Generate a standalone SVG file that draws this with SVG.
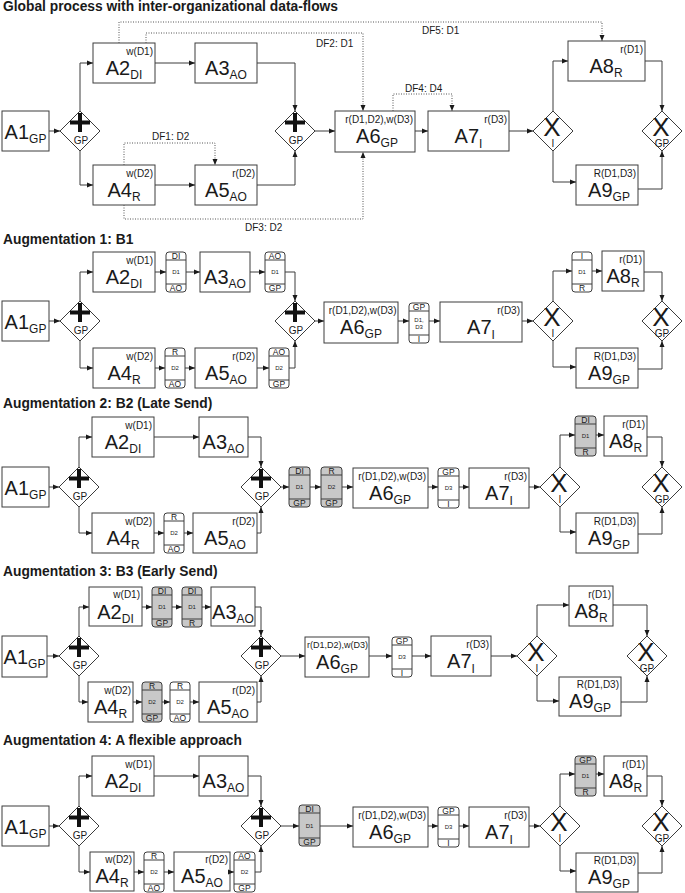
<svg xmlns="http://www.w3.org/2000/svg" width="685" height="893" viewBox="0 0 685 893">
<defs>
<marker id="ah" viewBox="0 0 6 6" refX="6" refY="3" markerWidth="6" markerHeight="6" markerUnits="userSpaceOnUse" orient="auto"><path d="M0,0.5L6,3L0,5.5z" fill="#1a1a1a"/></marker>
<style>
text{font-family:"Liberation Sans",Arial,sans-serif;fill:#1a1a1a}
.t{font-size:13.8px;font-weight:bold}
.box{fill:#fff;stroke:#3c3c3c;stroke-width:1}
.gw{fill:#fff;stroke:#3c3c3c;stroke-width:1}
.pl{stroke:#111;stroke-width:4;fill:none}
.big{font-size:20px;text-anchor:middle}
.sub{font-size:12px}
.sm{font-size:10px;text-anchor:end}
.sm9{font-size:9px;text-anchor:end}
.gl{font-size:10px;text-anchor:middle}
.x{font-size:26px;text-anchor:middle}
.do{fill:#fff;stroke:#3c3c3c;stroke-width:1}
.dg{fill:#c8c8c8;stroke:#3c3c3c;stroke-width:1}
.bd{stroke:#3c3c3c;fill:none;stroke-width:1}
.dt{font-size:8.5px;text-anchor:middle}
.dm{font-size:6px;text-anchor:middle}
.ln{fill:none;stroke:#3c3c3c;stroke-width:1;marker-end:url(#ah)}
.df{fill:none;stroke:#555;stroke-width:1;stroke-dasharray:1 1.5;marker-end:url(#ah)}
.dfl{font-size:10px}
</style>
</defs>
<rect width="685" height="893" fill="#fff"/>

<!-- Titles -->
<text class="t" x="3" y="11">Global process with inter-organizational data-flows</text>
<text class="t" x="3" y="244">Augmentation 1: B1</text>
<text class="t" x="3" y="408">Augmentation 2: B2 (Late Send)</text>
<text class="t" x="3" y="576">Augmentation 3: B3 (Early Send)</text>
<text class="t" x="3" y="745">Augmentation 4: A flexible approach</text>

<!-- ===== Section 1 ===== -->
<g id="s1-a1"><rect class="box" x="2" y="111" width="47" height="40"/><text class="big" x="25.5" y="139">A1<tspan class="sub" dy="4">GP</tspan></text></g>
<g id="s1-g1"><polygon class="gw" points="60,131 80,111 100,131 80,151"/><path class="pl" d="M70,122.5H90M80,113V132"/><text class="gl" x="81" y="144">GP</text></g>
<g id="s1-a2"><rect class="box" x="93" y="43" width="62" height="40"/><text class="sm" x="153" y="54.5">w(D1)</text><text class="big" x="124" y="75">A2<tspan class="sub" dy="4">DI</tspan></text></g>
<g id="s1-a3"><rect class="box" x="195" y="43" width="62" height="40"/><text class="big" x="226" y="75">A3<tspan class="sub" dy="4">AO</tspan></text></g>
<g id="s1-a4"><rect class="box" x="93" y="165" width="62" height="40"/><text class="sm" x="153" y="176.5">w(D2)</text><text class="big" x="124" y="197">A4<tspan class="sub" dy="4">R</tspan></text></g>
<g id="s1-a5"><rect class="box" x="195" y="165" width="62" height="40"/><text class="sm" x="255" y="176.5">r(D2)</text><text class="big" x="226" y="197">A5<tspan class="sub" dy="4">AO</tspan></text></g>
<g id="s1-g2"><polygon class="gw" points="275,131 295,111 315,131 295,151"/><path class="pl" d="M285,122.5H305M295,113V132"/><text class="gl" x="296" y="144">GP</text></g>
<g id="s1-a6"><rect class="box" x="335" y="111" width="80" height="41"/><text class="sm" x="413" y="122.5">r(D1,D2),w(D3)</text><text class="big" x="377" y="143">A6<tspan class="sub" dy="4">GP</tspan></text></g>
<g id="s1-a7"><rect class="box" x="428" y="111" width="81" height="40"/><text class="sm" x="507" y="122.5">r(D3)</text><text class="big" x="468.5" y="143">A7<tspan class="sub" dy="5">I</tspan></text></g>
<g id="s1-g3"><polygon class="gw" points="533,131 553,111 573,131 553,151"/><text class="x" x="552" y="136">X</text><text class="gl" x="553" y="147">I</text></g>
<g id="s1-a8"><rect class="box" x="568" y="41" width="77" height="40"/><text class="sm" x="643" y="52.5">r(D1)</text><text class="big" x="606" y="73">A8<tspan class="sub" dy="4">R</tspan></text></g>
<g id="s1-a9"><rect class="box" x="576" y="165" width="62" height="40"/><text class="sm" x="636" y="176.5">R(D1,D3)</text><text class="big" x="609" y="197">A9<tspan class="sub" dy="4">GP</tspan></text></g>
<g id="s1-g4"><polygon class="gw" points="642,131 662,111 682,131 662,151"/><text class="x" x="661" y="136">X</text><text class="gl" x="662" y="147">GP</text></g>

<!-- ===== Section 2 ===== -->
<g id="s2-a1"><rect class="box" x="2" y="301" width="47" height="40"/><text class="big" x="25.5" y="329">A1<tspan class="sub" dy="4">GP</tspan></text></g>
<g id="s2-g1"><polygon class="gw" points="60,321 80,301 100,321 80,341"/><path class="pl" d="M70,312.5H90M80,303V322"/><text class="gl" x="81" y="334">GP</text></g>
<g id="s2-a2"><rect class="box" x="93" y="252" width="62" height="40"/><text class="sm" x="153" y="263.5">w(D1)</text><text class="big" x="124" y="284">A2<tspan class="sub" dy="4">DI</tspan></text></g>
<g id="s2-do1" transform="translate(166,252)"><rect class="do" width="20" height="40" rx="3"/><path class="bd" d="M0,8H20M0,32H20"/><text class="dt" x="10" y="7">DI</text><text class="dm" x="10" y="22">D1</text><text class="dt" x="10" y="39">AO</text></g>
<g id="s2-a3"><rect class="box" x="200" y="252" width="50" height="40"/><text class="big" x="225" y="284">A3<tspan class="sub" dy="4">AO</tspan></text></g>
<g id="s2-do2" transform="translate(265,252)"><rect class="do" width="20" height="40" rx="3"/><path class="bd" d="M0,8H20M0,32H20"/><text class="dt" x="10" y="7">AO</text><text class="dm" x="10" y="22">D1</text><text class="dt" x="10" y="39">GP</text></g>
<g id="s2-g2"><polygon class="gw" points="275,321 295,301 315,321 295,341"/><path class="pl" d="M285,312.5H305M295,303V322"/><text class="gl" x="296" y="334">GP</text></g>
<g id="s2-a4"><rect class="box" x="93" y="348" width="62" height="40"/><text class="sm" x="153" y="359.5">w(D2)</text><text class="big" x="124" y="380">A4<tspan class="sub" dy="4">R</tspan></text></g>
<g id="s2-do3" transform="translate(165,348)"><rect class="do" width="20" height="40" rx="3"/><path class="bd" d="M0,8H20M0,32H20"/><text class="dt" x="10" y="7">R</text><text class="dm" x="10" y="22">D2</text><text class="dt" x="10" y="39">AO</text></g>
<g id="s2-a5"><rect class="box" x="195" y="348" width="62" height="40"/><text class="sm" x="255" y="359.5">r(D2)</text><text class="big" x="226" y="380">A5<tspan class="sub" dy="4">AO</tspan></text></g>
<g id="s2-do4" transform="translate(269,348)"><rect class="do" width="20" height="40" rx="3"/><path class="bd" d="M0,8H20M0,32H20"/><text class="dt" x="10" y="7">AO</text><text class="dm" x="10" y="22">D2</text><text class="dt" x="10" y="39">GP</text></g>
<g id="s2-a6"><rect class="box" x="324" y="302" width="74" height="41"/><text class="sm" x="396.5" y="313.5">r(D1,D2),w(D3)</text><text class="big" x="361" y="334">A6<tspan class="sub" dy="4">GP</tspan></text></g>
<g id="s2-do5" transform="translate(409,303)"><rect class="do" width="20" height="40" rx="3"/><path class="bd" d="M0,8H20M0,32H20"/><text class="dt" x="10" y="7">GP</text><text class="dm" x="10" y="18.5">D1,</text><text class="dm" x="10" y="25.5">D3</text><text class="dt" x="10" y="39">I</text></g>
<g id="s2-a7"><rect class="box" x="440" y="302" width="82" height="40"/><text class="sm" x="520" y="313.5">r(D3)</text><text class="big" x="481" y="334">A7<tspan class="sub" dy="5">I</tspan></text></g>
<g id="s2-g3"><polygon class="gw" points="533,321 553,301 573,321 553,341"/><text class="x" x="552" y="326">X</text><text class="gl" x="553" y="337">I</text></g>
<g id="s2-do6" transform="translate(572,252)"><rect class="do" width="20" height="40" rx="3"/><path class="bd" d="M0,8H20M0,32H20"/><text class="dt" x="10" y="7">I</text><text class="dm" x="10" y="22">D1</text><text class="dt" x="10" y="39">R</text></g>
<g id="s2-a8"><rect class="box" x="602" y="251" width="42" height="40"/><text class="sm" x="642" y="262.5">r(D1)</text><text class="big" x="623" y="283">A8<tspan class="sub" dy="4">R</tspan></text></g>
<g id="s2-g4"><polygon class="gw" points="642,321 662,301 682,321 662,341"/><text class="x" x="661" y="326">X</text><text class="gl" x="662" y="337">GP</text></g>
<g id="s2-a9"><rect class="box" x="576" y="348" width="62" height="40"/><text class="sm" x="636" y="359.5">R(D1,D3)</text><text class="big" x="609" y="380">A9<tspan class="sub" dy="4">GP</tspan></text></g>

<!-- ===== Section 3 ===== -->
<g id="s3-a1"><rect class="box" x="2" y="467" width="47" height="40"/><text class="big" x="25.5" y="495">A1<tspan class="sub" dy="4">GP</tspan></text></g>
<g id="s3-g1"><polygon class="gw" points="59,487 79,467 99,487 79,507"/><path class="pl" d="M69,478.5H89M79,469V488"/><text class="gl" x="80" y="500">GP</text></g>
<g id="s3-a2"><rect class="box" x="92" y="417" width="62" height="40"/><text class="sm" x="152" y="428.5">w(D1)</text><text class="big" x="123" y="449">A2<tspan class="sub" dy="4">DI</tspan></text></g>
<g id="s3-a3"><rect class="box" x="199" y="417" width="49" height="40"/><text class="big" x="223.5" y="449">A3<tspan class="sub" dy="4">AO</tspan></text></g>
<g id="s3-g2"><polygon class="gw" points="241,487 261,467 281,487 261,507"/><path class="pl" d="M251,478.5H271M261,469V488"/><text class="gl" x="262" y="500">GP</text></g>
<g id="s3-a4"><rect class="box" x="92" y="513" width="62" height="40"/><text class="sm" x="152" y="524.5">w(D2)</text><text class="big" x="123" y="545">A4<tspan class="sub" dy="4">R</tspan></text></g>
<g id="s3-do1" transform="translate(164,513)"><rect class="do" width="20" height="40" rx="3"/><path class="bd" d="M0,8H20M0,32H20"/><text class="dt" x="10" y="7">R</text><text class="dm" x="10" y="22">D2</text><text class="dt" x="10" y="39">AO</text></g>
<g id="s3-a5"><rect class="box" x="193" y="513" width="64" height="40"/><text class="sm" x="255" y="524.5">r(D2)</text><text class="big" x="225" y="545">A5<tspan class="sub" dy="4">AO</tspan></text></g>
<g id="s3-do2" transform="translate(289,467)"><rect class="dg" width="21" height="40" rx="3"/><path class="bd" d="M0,8H21M0,32H21"/><text class="dt" x="10.5" y="7">DI</text><text class="dm" x="10.5" y="22">D1</text><text class="dt" x="10.5" y="39">GP</text></g>
<g id="s3-do3" transform="translate(321,467)"><rect class="dg" width="21" height="40" rx="3"/><path class="bd" d="M0,8H21M0,32H21"/><text class="dt" x="10.5" y="7">R</text><text class="dm" x="10.5" y="22">D2</text><text class="dt" x="10.5" y="39">GP</text></g>
<g id="s3-a6"><rect class="box" x="353" y="468" width="75" height="40"/><text class="sm" x="426" y="479.5">r(D1,D2),w(D3)</text><text class="big" x="390" y="500">A6<tspan class="sub" dy="4">GP</tspan></text></g>
<g id="s3-do4" transform="translate(438,468)"><rect class="do" width="21" height="40" rx="3"/><path class="bd" d="M0,8H21M0,32H21"/><text class="dt" x="10.5" y="7">GP</text><text class="dm" x="10.5" y="22">D3</text><text class="dt" x="10.5" y="39">I</text></g>
<g id="s3-a7"><rect class="box" x="469" y="468" width="60" height="40"/><text class="sm" x="527" y="479.5">r(D3)</text><text class="big" x="499" y="500">A7<tspan class="sub" dy="5">I</tspan></text></g>
<g id="s3-g3"><polygon class="gw" points="540,487 560,467 580,487 560,507"/><text class="x" x="559" y="492">X</text><text class="gl" x="560" y="503">I</text></g>
<g id="s3-do5" transform="translate(575,416)"><rect class="dg" width="21" height="40" rx="3"/><path class="bd" d="M0,8H21M0,32H21"/><text class="dt" x="10.5" y="7">DI</text><text class="dm" x="10.5" y="22">D1</text><text class="dt" x="10.5" y="39">R</text></g>
<g id="s3-a8"><rect class="box" x="604" y="416" width="43" height="40"/><text class="sm" x="645" y="427.5">r(D1)</text><text class="big" x="625.5" y="448">A8<tspan class="sub" dy="4">R</tspan></text></g>
<g id="s3-g4"><polygon class="gw" points="642,487 662,467 682,487 662,507"/><text class="x" x="661" y="492">X</text><text class="gl" x="662" y="503">GP</text></g>
<g id="s3-a9"><rect class="box" x="576" y="513" width="62" height="40"/><text class="sm" x="636" y="524.5">R(D1,D3)</text><text class="big" x="609" y="545">A9<tspan class="sub" dy="4">GP</tspan></text></g>

<!-- ===== Section 4 ===== -->
<g id="s4-a1"><rect class="box" x="2" y="636" width="45" height="41"/><text class="big" x="24.5" y="664">A1<tspan class="sub" dy="4">GP</tspan></text></g>
<g id="s4-g1"><polygon class="gw" points="59,656 79,636 99,656 79,676"/><path class="pl" d="M69,647.5H89M79,638V657"/><text class="gl" x="80" y="669">GP</text></g>
<g id="s4-a2"><rect class="box" x="89" y="587" width="53" height="39"/><text class="sm" x="140" y="598">w(D1)</text><text class="big" x="115.5" y="619">A2<tspan class="sub" dy="4">DI</tspan></text></g>
<g id="s4-do1" transform="translate(152,587)"><rect class="dg" width="20" height="40" rx="3"/><path class="bd" d="M0,8H20M0,32H20"/><text class="dt" x="10" y="7">DI</text><text class="dm" x="10" y="22">D1</text><text class="dt" x="10" y="39">GP</text></g>
<g id="s4-do2" transform="translate(182,587)"><rect class="dg" width="20" height="40" rx="3"/><path class="bd" d="M0,8H20M0,32H20"/><text class="dt" x="10" y="7">DI</text><text class="dm" x="10" y="22">D1</text><text class="dt" x="10" y="39">R</text></g>
<g id="s4-a3"><rect class="box" x="211" y="587" width="44" height="39"/><text class="big" x="233" y="619">A3<tspan class="sub" dy="4">AO</tspan></text></g>
<g id="s4-g2"><polygon class="gw" points="241,656 261,636 281,656 261,676"/><path class="pl" d="M251,647.5H271M261,638V657"/><text class="gl" x="262" y="669">GP</text></g>
<g id="s4-a4"><rect class="box" x="88" y="682" width="45" height="40"/><text class="sm" x="131" y="693.5">w(D2)</text><text class="big" x="110.5" y="714">A4<tspan class="sub" dy="4">R</tspan></text></g>
<g id="s4-do3" transform="translate(142,682)"><rect class="dg" width="20" height="40" rx="3"/><path class="bd" d="M0,8H20M0,32H20"/><text class="dt" x="10" y="7">R</text><text class="dm" x="10" y="22">D2</text><text class="dt" x="10" y="39">GP</text></g>
<g id="s4-do4" transform="translate(170,682)"><rect class="do" width="20" height="40" rx="3"/><path class="bd" d="M0,8H20M0,32H20"/><text class="dt" x="10" y="7">R</text><text class="dm" x="10" y="22">D2</text><text class="dt" x="10" y="39">AO</text></g>
<g id="s4-a5"><rect class="box" x="199" y="682" width="58" height="40"/><text class="sm" x="255" y="693.5">r(D2)</text><text class="big" x="228" y="714">A5<tspan class="sub" dy="4">AO</tspan></text></g>
<g id="s4-a6"><rect class="box" x="305" y="637" width="64" height="40"/><text class="sm9" x="368" y="648">r(D1,D2),w(D3)</text><text class="big" x="337" y="669">A6<tspan class="sub" dy="4">GP</tspan></text></g>
<g id="s4-do5" transform="translate(392,637)"><rect class="do" width="20" height="40" rx="3"/><path class="bd" d="M0,8H20M0,32H20"/><text class="dt" x="10" y="7">GP</text><text class="dm" x="10" y="22">D3</text><text class="dt" x="10" y="39">I</text></g>
<g id="s4-a7"><rect class="box" x="431" y="636" width="60" height="40"/><text class="sm" x="489" y="647.5">r(D3)</text><text class="big" x="461" y="668">A7<tspan class="sub" dy="5">I</tspan></text></g>
<g id="s4-g3"><polygon class="gw" points="517,656 537,636 557,656 537,676"/><text class="x" x="536" y="661">X</text><text class="gl" x="537" y="672">I</text></g>
<g id="s4-a8"><rect class="box" x="569" y="586" width="44" height="40"/><text class="sm" x="611" y="597.5">r(D1)</text><text class="big" x="591" y="618">A8<tspan class="sub" dy="4">R</tspan></text></g>
<g id="s4-g4"><polygon class="gw" points="627,656 647,636 667,656 647,676"/><text class="x" x="646" y="661">X</text><text class="gl" x="647" y="672">GP</text></g>
<g id="s4-a9"><rect class="box" x="559" y="677" width="62" height="39"/><text class="sm" x="619" y="688">R(D1,D3)</text><text class="big" x="590" y="708">A9<tspan class="sub" dy="4">GP</tspan></text></g>

<!-- ===== Section 5 ===== -->
<g id="s5-a1"><rect class="box" x="2" y="806" width="47" height="40"/><text class="big" x="25.5" y="834">A1<tspan class="sub" dy="4">GP</tspan></text></g>
<g id="s5-g1"><polygon class="gw" points="59,826 79,806 99,826 79,846"/><path class="pl" d="M69,817.5H89M79,808V827"/><text class="gl" x="80" y="839">GP</text></g>
<g id="s5-a2"><rect class="box" x="92" y="756" width="62" height="40"/><text class="sm" x="152" y="767.5">w(D1)</text><text class="big" x="123" y="788">A2<tspan class="sub" dy="4">DI</tspan></text></g>
<g id="s5-a3"><rect class="box" x="199" y="756" width="49" height="40"/><text class="big" x="223.5" y="788">A3<tspan class="sub" dy="4">AO</tspan></text></g>
<g id="s5-g2"><polygon class="gw" points="241,826 261,806 281,826 261,846"/><path class="pl" d="M251,817.5H271M261,808V827"/><text class="gl" x="262" y="839">GP</text></g>
<g id="s5-a4"><rect class="box" x="90" y="852" width="44" height="39"/><text class="sm" x="132" y="863">w(D2)</text><text class="big" x="112" y="883">A4<tspan class="sub" dy="4">R</tspan></text></g>
<g id="s5-do1" transform="translate(144,852)"><rect class="do" width="20" height="40" rx="3"/><path class="bd" d="M0,8H20M0,32H20"/><text class="dt" x="10" y="7">R</text><text class="dm" x="10" y="22">D2</text><text class="dt" x="10" y="39">AO</text></g>
<g id="s5-a5"><rect class="box" x="174" y="852" width="56" height="39"/><text class="sm" x="228" y="863">r(D2)</text><text class="big" x="202" y="883">A5<tspan class="sub" dy="4">AO</tspan></text></g>
<g id="s5-do2" transform="translate(234,852)"><rect class="do" width="21" height="40" rx="3"/><path class="bd" d="M0,8H21M0,32H21"/><text class="dt" x="10.5" y="7">AO</text><text class="dm" x="10.5" y="22">D2</text><text class="dt" x="10.5" y="39">GP</text></g>
<g id="s5-do3" transform="translate(299,805)"><rect class="dg" width="21" height="41" rx="3"/><path class="bd" d="M0,8H21M0,33H21"/><text class="dt" x="10.5" y="7">DI</text><text class="dm" x="10.5" y="22.5">D1</text><text class="dt" x="10.5" y="40">GP</text></g>
<g id="s5-a6"><rect class="box" x="353" y="807" width="75" height="40"/><text class="sm" x="426" y="818.5">r(D1,D2),w(D3)</text><text class="big" x="390" y="839">A6<tspan class="sub" dy="4">GP</tspan></text></g>
<g id="s5-do4" transform="translate(438,807)"><rect class="do" width="21" height="40" rx="3"/><path class="bd" d="M0,8H21M0,32H21"/><text class="dt" x="10.5" y="7">GP</text><text class="dm" x="10.5" y="22">D3</text><text class="dt" x="10.5" y="39">I</text></g>
<g id="s5-a7"><rect class="box" x="469" y="807" width="60" height="40"/><text class="sm" x="527" y="818.5">r(D3)</text><text class="big" x="499" y="839">A7<tspan class="sub" dy="5">I</tspan></text></g>
<g id="s5-g3"><polygon class="gw" points="540,826 560,806 580,826 560,846"/><text class="x" x="559" y="831">X</text><text class="gl" x="560" y="842">I</text></g>
<g id="s5-do5" transform="translate(575,756)"><rect class="dg" width="21" height="40" rx="3"/><path class="bd" d="M0,8H21M0,32H21"/><text class="dt" x="10.5" y="7">GP</text><text class="dm" x="10.5" y="22">D1</text><text class="dt" x="10.5" y="39">R</text></g>
<g id="s5-a8"><rect class="box" x="604" y="756" width="43" height="40"/><text class="sm" x="645" y="767.5">r(D1)</text><text class="big" x="625.5" y="788">A8<tspan class="sub" dy="4">R</tspan></text></g>
<g id="s5-g4"><polygon class="gw" points="642,826 662,806 682,826 662,846"/><text class="x" x="661" y="831">X</text><text class="gl" x="662" y="842">GP</text></g>
<g id="s5-a9"><rect class="box" x="576" y="853" width="62" height="39"/><text class="sm" x="636" y="864">R(D1,D3)</text><text class="big" x="609" y="884">A9<tspan class="sub" dy="4">GP</tspan></text></g>

<!-- ===== Connectors ===== -->
<g id="connectors">
<g id="c-s1">
<path class="ln" d="M49,131H60"/>
<path class="ln" d="M80,111V63H93"/>
<path class="ln" d="M80,151V185H93"/>
<path class="ln" d="M155,63H195"/>
<path class="ln" d="M155,185H195"/>
<path class="ln" d="M257,63H295V111"/>
<path class="ln" d="M257,185H295V151"/>
<path class="ln" d="M315,131H335"/>
<path class="ln" d="M415,131H428"/>
<path class="ln" d="M509,131H533"/>
<path class="ln" d="M553,111V61H568"/>
<path class="ln" d="M553,151V182H576"/>
<path class="ln" d="M645,61H662V111"/>
<path class="ln" d="M638,189H662V151"/>
<path class="df" d="M119,43V22H602V41"/>
<path class="df" d="M146,43V33H363V111"/>
<path class="df" d="M124,165V143H215V165"/>
<path class="df" d="M124,205V219H363V152"/>
<path class="df" d="M393,111V94H452V111"/>
<text class="dfl" x="422" y="34">DF5: D1</text>
<text class="dfl" x="316" y="47">DF2: D1</text>
<text class="dfl" x="152" y="140">DF1: D2</text>
<text class="dfl" x="245" y="231">DF3: D2</text>
<text class="dfl" x="405" y="92">DF4: D4</text>
</g>
<g id="c-s2">
<path class="ln" d="M49,321H60"/>
<path class="ln" d="M80,301V272H93"/>
<path class="ln" d="M80,341V368H93"/>
<path class="ln" d="M155,272H166"/>
<path class="ln" d="M186,272H200"/>
<path class="ln" d="M250,272H265"/>
<path class="ln" d="M285,272H295V301"/>
<path class="ln" d="M155,368H165"/>
<path class="ln" d="M185,368H195"/>
<path class="ln" d="M257,368H269"/>
<path class="ln" d="M289,368H295V341"/>
<path class="ln" d="M315,321H324"/>
<path class="ln" d="M398,321H409"/>
<path class="ln" d="M429,321H440"/>
<path class="ln" d="M522,321H533"/>
<path class="ln" d="M553,301V271H572"/>
<path class="ln" d="M592,271H602"/>
<path class="ln" d="M644,272H662V301"/>
<path class="ln" d="M553,341V367H576"/>
<path class="ln" d="M638,369H662V341"/>
</g>
<g id="c-s3">
<path class="ln" d="M49,487H59"/>
<path class="ln" d="M79,467V437H92"/>
<path class="ln" d="M154,437H199"/>
<path class="ln" d="M248,437H261V467"/>
<path class="ln" d="M79,507V533H92"/>
<path class="ln" d="M154,533H164"/>
<path class="ln" d="M184,533H193"/>
<path class="ln" d="M257,533H261V507"/>
<path class="ln" d="M281,487H289"/>
<path class="ln" d="M310,487H321"/>
<path class="ln" d="M342,487H353"/>
<path class="ln" d="M428,487H438"/>
<path class="ln" d="M459,487H469"/>
<path class="ln" d="M529,487H540"/>
<path class="ln" d="M560,467V435H575"/>
<path class="ln" d="M596,435H604"/>
<path class="ln" d="M647,437H662V467"/>
<path class="ln" d="M560,507V532H576"/>
<path class="ln" d="M638,534H662V507"/>
</g>
<g id="c-s4">
<path class="ln" d="M47,656H59"/>
<path class="ln" d="M79,636V607H89"/>
<path class="ln" d="M142,607H152"/>
<path class="ln" d="M172,607H182"/>
<path class="ln" d="M202,607H211"/>
<path class="ln" d="M255,607H261V636"/>
<path class="ln" d="M79,676V702H88"/>
<path class="ln" d="M133,702H142"/>
<path class="ln" d="M162,702H170"/>
<path class="ln" d="M190,702H199"/>
<path class="ln" d="M257,702H261V676"/>
<path class="ln" d="M281,656H305"/>
<path class="ln" d="M369,656H392"/>
<path class="ln" d="M412,656H431"/>
<path class="ln" d="M491,656H517"/>
<path class="ln" d="M537,636V605H569"/>
<path class="ln" d="M613,605H647V636"/>
<path class="ln" d="M537,676V701H559"/>
<path class="ln" d="M621,702H647V676"/>
</g>
<g id="c-s5">
<path class="ln" d="M49,826H59"/>
<path class="ln" d="M79,806V776H92"/>
<path class="ln" d="M154,776H199"/>
<path class="ln" d="M248,776H261V806"/>
<path class="ln" d="M79,846V872H90"/>
<path class="ln" d="M134,872H144"/>
<path class="ln" d="M164,872H174"/>
<path class="ln" d="M230,872H234"/>
<path class="ln" d="M255,872H261V846"/>
<path class="ln" d="M281,826H299"/>
<path class="ln" d="M320,826H353"/>
<path class="ln" d="M428,826H438"/>
<path class="ln" d="M459,826H469"/>
<path class="ln" d="M529,826H540"/>
<path class="ln" d="M560,806V774H575"/>
<path class="ln" d="M596,774H604"/>
<path class="ln" d="M647,776H662V806"/>
<path class="ln" d="M560,846V871H576"/>
<path class="ln" d="M638,873H662V846"/>
</g>
</g>
</svg>
